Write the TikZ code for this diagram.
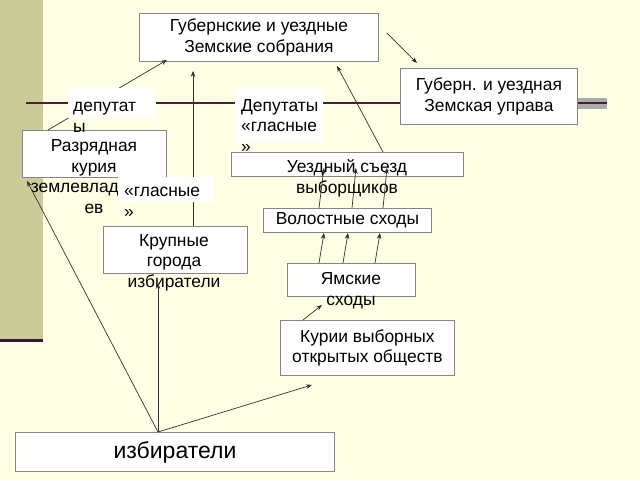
\documentclass[tikz,border=0pt]{standalone}
\usepackage{fontspec}
\setmainfont{Liberation Sans}
\usetikzlibrary{arrows.meta,calc}
\definecolor{bgc}{HTML}{FFFFE6}
\definecolor{barc}{HTML}{CBCB9A}
\definecolor{plum}{HTML}{4A1E3C}
\definecolor{darkplum}{HTML}{3A163A}
\definecolor{bandgray}{HTML}{ABABAB}
\definecolor{boxgray}{HTML}{858585}
\definecolor{arrowc}{HTML}{303030}
\begin{document}
\begin{tikzpicture}[x=1pt,y=-1pt,
  box/.style={draw=boxgray, fill=white, line width=0.9pt, inner sep=0, anchor=north west},
  txt/.style={font=\fontsize{17.4}{20.5}\selectfont, align=center, inner sep=0, text=black},
  bigtxt/.style={font=\fontsize{23}{27}\selectfont, text=black},
  lblbg/.style={fill=white, inner sep=0, anchor=north west},
  lbltxt/.style={font=\fontsize{17.4}{20.5}\selectfont, align=left, inner sep=0, anchor=base west},
  arr/.style={-{Stealth[length=6pt,width=4.5pt]}, line width=0.7pt, draw=arrowc},
  hline/.style={draw=plum, line width=1.5pt}]
\useasboundingbox (0,0) rectangle (640,480);
\fill[bgc] (0,0) rectangle (640,480);
\fill[barc] (0,0) rectangle (43,340);
\draw[darkplum, line width=3pt] (0,340) -- (43,340);
\fill[bandgray] (577,98) rectangle (607,109);
\coordinate (hl) at (26,103);
\coordinate (hr) at (607,103);
\draw[hline] (hl) -- (hr);

% boxes
\node[box, minimum width=239pt, minimum height=48pt] (b1) at (139,13) {};
\node[txt] (t1) at (b1.center) {Губернские и уездные\\Земские собрания};
\node[box, minimum width=177pt, minimum height=56pt] (b2) at (400,68) {};
\node[txt] (t2) at (b2.center) {Губерн. и уездная\\Земская управа};
\node[box, minimum width=144pt, minimum height=47pt] (b3) at (22,130) {};
\node[box, minimum width=232pt, minimum height=24pt] (b4) at (231,152) {};
\node[box, minimum width=168pt, minimum height=24pt] (b5) at (263,208) {};
\node[txt] (t5) at (b5.center) {Волостные сходы};
\node[box, minimum width=144pt, minimum height=47pt] (b6) at (103,226) {};
\node[box, minimum width=128pt, minimum height=33pt] (b7) at (287,263) {};
\node[box, minimum width=174pt, minimum height=55pt] (b8) at (280,320) {};
\node[txt] (t8) at (b8.center) {Курии выборных\\открытых обществ};
\node[box, minimum width=319pt, minimum height=39pt] (b9) at (15,432) {};
\node[bigtxt] (t9) at (b9.center) {избиратели};

% overflowing texts (anchor = baseline of the last line)
\node[txt, anchor=base] (t3) at (94,213) {Разрядная\\курия\\землевлад\hphantom{ельц}\\ев};
\node[txt, anchor=base] (t4) at (347,193) {Уездный съезд\\выборщиков};
\node[txt, anchor=base] (t6) at (174,287) {Крупные\\города\\избиратели};
\node[txt, anchor=base] (t7) at (351,305) {Ямские\\сходы};

% arrows
\draw[arr] ($(b3.north west)+(26,0)$) -- ($(b1.south west)+(28,-2)$);
\draw[arr] ($(b9.north west)+(143,0)$) -- ($(b6.south west)+(55,9)$);
\draw[arr] ($(b9.north west)+(143,0)$) -- ($(b3.south west)+(5,3)$);
\draw[arr] ($(b9.north west)+(143,0)$) -- ($(b8.south west)+(32,9)$);
\draw[arr] ($(b8.north west)+(23,0)$) -- ($(b7.south west)+(35,8)$);
\draw[arr] ($(b7.north west)+(32,0)$) -- ($(b5.south west)+(61,0)$);
\draw[arr] ($(b7.north west)+(56,0)$) -- ($(b5.south west)+(85,0)$);
\draw[arr] ($(b7.north west)+(88,0)$) -- ($(b5.south west)+(117,0)$);
\draw[arr] ($(b5.north west)+(56,0)$) -- ($(b4.south west)+(93,-9)$);
\draw[arr] ($(b5.north west)+(89,0)$) -- ($(b4.south west)+(125,-9)$);
\draw[arr] ($(b5.north west)+(120,0)$) -- ($(b4.south west)+(156,-9)$);
\draw[arr] ($(b6.north west)+(90,0)$) -- ($(b1.south west)+(54,9)$);
\draw[arr] ($(b4.north west)+(152,0)$) -- ($(b1.south west)+(198,4)$);
\draw[arr] ($(b1.north east)+(8,20)$) -- ($(b2.north west)+(17,-5)$);

% labels
\node[lblbg, minimum width=88pt, minimum height=30pt] (l1) at (68,88) {};
\node[lbltxt] (l1t) at (73,132) {депутат\\ы};
\node[lblbg, minimum width=88pt, minimum height=54pt] (l2) at (235,88) {};
\node[lbltxt] (l2t) at (241,152) {Депутаты\\«гласные\\»};
\node[lblbg, minimum width=96pt, minimum height=25pt] (l3) at (118,177) {};
\node[lbltxt] (l3t) at (124,217) {«гласные\\»};
\end{tikzpicture}
\end{document}
